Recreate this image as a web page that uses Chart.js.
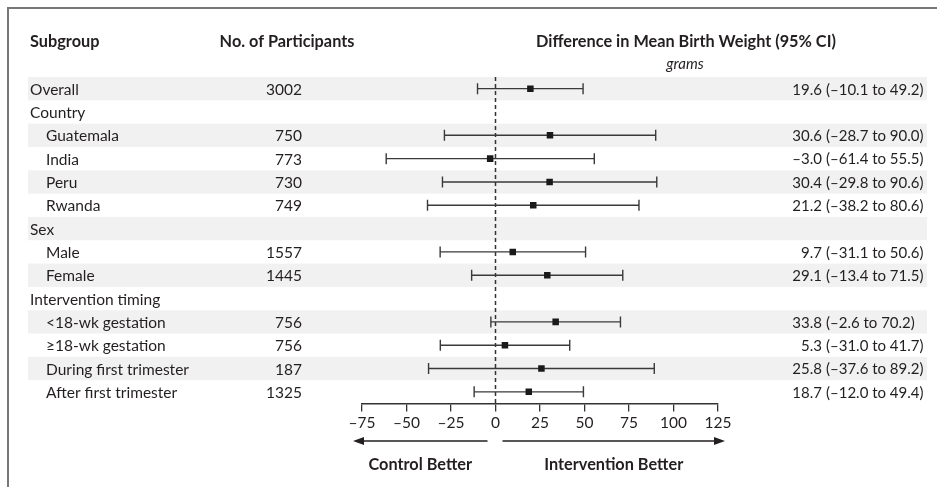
<!DOCTYPE html>
<html>
<head>
<meta charset="utf-8">
<script src="https://cdn.jsdelivr.net/npm/chart.js@4"></script>
<style>
  html, body { margin: 0; padding: 0; background: #fff; }
  #wrap { width: 937px; height: 487px; }
</style>
</head>
<body>
<div id="wrap"><canvas id="myChart" width="937" height="487"></canvas></div>
<script>
// data
var subgroups = ['Overall', 'Country', 'Guatemala', 'India', 'Peru', 'Rwanda', 'Sex', 'Male', 'Female',
    'Intervention timing', '<18-wk gestation', '\u226518-wk gestation', 'During first trimester', 'After first trimester'];
var isSubrow = [false, false, true, true, true, true, false, true, true, false, true, true, true, true];
var participants = [3002, null, 750, 773, 730, 749, null, 1557, 1445, null, 756, 756, 187, 1325];
var estimates = [19.6, null, 30.6, -3.0, 30.4, 21.2, null, 9.7, 29.1, null, 33.8, 5.3, 25.8, 18.7];
var lowerCI = [-10.1, null, -28.7, -61.4, -29.8, -38.2, null, -31.1, -13.4, null, -2.6, -31.0, -37.6, -12.0];
var upperCI = [49.2, null, 90.0, 55.5, 90.6, 80.6, null, 50.6, 71.5, null, 70.2, 41.7, 89.2, 49.4];
var xTicks = [-75, -50, -25, 0, 25, 50, 75, 100, 125];

var FONT = 'Lato';
var INK = '#231f20';

function fmt(v) {
    return v.toFixed(1).replace('-', '\u2013');
}

var points = [];
for (var i = 0; i < subgroups.length; i++) {
    if (estimates[i] !== null) {
        points.push({ x: estimates[i], y: i });
    }
}

var forestPlugin = {
    id: 'forest',
    beforeDraw: function (chart) {
        var ctx = chart.ctx;
        var y = chart.scales.y;
        ctx.save();
        ctx.fillStyle = '#fff';
        ctx.fillRect(0, 0, chart.width, chart.height);
        // alternating row shading
        ctx.fillStyle = '#f1f1f1';
        for (var i = 0; i < subgroups.length; i += 2) {
            var t = y.getPixelForValue(i - 0.5);
            var b = y.getPixelForValue(i + 0.5);
            ctx.fillRect(28, t, 927 - 28, b - t);
        }
        // frame
        ctx.strokeStyle = '#777';
        ctx.lineWidth = 2;
        ctx.beginPath();
        ctx.moveTo(8, chart.height);
        ctx.lineTo(8, 8);
        ctx.lineTo(chart.width, 8);
        ctx.stroke();
        ctx.restore();
    },
    beforeDatasetsDraw: function (chart) {
        var ctx = chart.ctx;
        var x = chart.scales.x;
        var y = chart.scales.y;
        var area = chart.chartArea;
        ctx.save();
        // line of no difference
        ctx.strokeStyle = '#333';
        ctx.lineWidth = 1.5;
        ctx.setLineDash([4, 3]);
        ctx.beginPath();
        ctx.moveTo(x.getPixelForValue(0), area.top);
        ctx.lineTo(x.getPixelForValue(0), area.bottom);
        ctx.stroke();
        ctx.setLineDash([]);
        // confidence intervals
        ctx.strokeStyle = '#3a3a3a';
        ctx.lineWidth = 1.4;
        for (var i = 0; i < subgroups.length; i++) {
            if (lowerCI[i] === null) continue;
            var py = y.getPixelForValue(i);
            var x1 = x.getPixelForValue(lowerCI[i]);
            var x2 = x.getPixelForValue(upperCI[i]);
            ctx.beginPath();
            ctx.moveTo(x1, py);
            ctx.lineTo(x2, py);
            ctx.moveTo(x1, py - 5.5);
            ctx.lineTo(x1, py + 5.5);
            ctx.moveTo(x2, py - 5.5);
            ctx.lineTo(x2, py + 5.5);
            ctx.stroke();
        }
        ctx.restore();
    },
    afterDraw: function (chart) {
        var ctx = chart.ctx;
        var x = chart.scales.x;
        var y = chart.scales.y;
        ctx.save();
        ctx.fillStyle = INK;
        ctx.textBaseline = 'middle';

        // column headers
        ctx.font = 'bold 16.3px ' + FONT;
        ctx.textAlign = 'left';
        ctx.fillText('Subgroup', 30, 42);
        ctx.textAlign = 'center';
        ctx.fillText('No. of Participants', 287, 42);
        ctx.fillText('Difference in Mean Birth Weight (95% CI)', 686, 42);
        ctx.font = 'italic 15px ' + FONT;
        ctx.fillText('grams', 685, 64);

        // rows
        for (var i = 0; i < subgroups.length; i++) {
            var py = y.getPixelForValue(i) + 1;
            ctx.font = '15.5px ' + FONT;
            ctx.textAlign = 'left';
            ctx.fillText(subgroups[i], isSubrow[i] ? 46 : 30, py);
            if (participants[i] !== null) {
                ctx.textAlign = 'right';
                ctx.fillText(String(participants[i]), 302, py);
            }
            if (estimates[i] !== null) {
                ctx.font = '15px ' + FONT;
                ctx.textAlign = 'right';
                ctx.fillText(fmt(estimates[i]), 822, py);
                ctx.textAlign = 'left';
                ctx.fillText('(' + fmt(lowerCI[i]) + ' to ' + fmt(upperCI[i]) + ')', 826, py);
            }
        }

        // direction arrows
        var x0 = x.getPixelForValue(0);
        var xl = x.getPixelForValue(x.min) - 9;
        var xr = x.getPixelForValue(x.max) + 7;
        var ay = 441;
        ctx.strokeStyle = INK;
        ctx.lineWidth = 1.5;
        ctx.beginPath();
        ctx.moveTo(xl + 8, ay);
        ctx.lineTo(x0 - 8, ay);
        ctx.moveTo(x0 + 7, ay);
        ctx.lineTo(xr - 8, ay);
        ctx.stroke();
        ctx.beginPath();
        ctx.moveTo(xl, ay);
        ctx.lineTo(xl + 11, ay - 4);
        ctx.lineTo(xl + 11, ay + 4);
        ctx.closePath();
        ctx.moveTo(xr, ay);
        ctx.lineTo(xr - 11, ay - 4);
        ctx.lineTo(xr - 11, ay + 4);
        ctx.closePath();
        ctx.fill();

        ctx.font = 'bold 16.3px ' + FONT;
        ctx.textAlign = 'center';
        ctx.fillText('Control Better', (xl + x0 - 8) / 2, 465);
        ctx.fillText('Intervention Better', (x0 + 7 + xr) / 2, 465);
        ctx.restore();
    }
};

var ctx = document.getElementById('myChart').getContext('2d');
var currentChart = new Chart(ctx, {
    type: 'scatter',
    data: {
        datasets: [{
            label: 'Difference',
            data: points,
            pointStyle: 'rect',
            pointRadius: 4.6,
            pointHoverRadius: 4.6,
            backgroundColor: '#1a1a1a',
            borderWidth: 0
        }]
    },
    plugins: [forestPlugin],
    options: {
        responsive: false,
        animation: false,
        events: [],
        layout: {
            padding: { left: 362, right: 219, top: 77, bottom: 53.5 }
        },
        plugins: {
            legend: { display: false },
            tooltip: { enabled: false }
        },
        scales: {
            x: {
                type: 'linear',
                min: -75,
                max: 125,
                afterBuildTicks: function (scale) {
                    scale.ticks = xTicks.map(function (v) { return { value: v }; });
                },
                afterFit: function (scale) {
                    scale.height = 30;
                },
                grid: {
                    drawOnChartArea: false,
                    drawTicks: true,
                    tickLength: 8,
                    color: '#333',
                    lineWidth: 1.3
                },
                border: { color: '#333', width: 1.5 },
                ticks: {
                    padding: 2,
                    color: INK,
                    font: { family: FONT, size: 15.5 },
                    callback: function (v) { return String(v).replace('-', '\u2013'); }
                }
            },
            y: {
                type: 'linear',
                min: -0.5,
                max: 13.5,
                reverse: true,
                display: false
            }
        }
    }
});
</script>
</body>
</html>
